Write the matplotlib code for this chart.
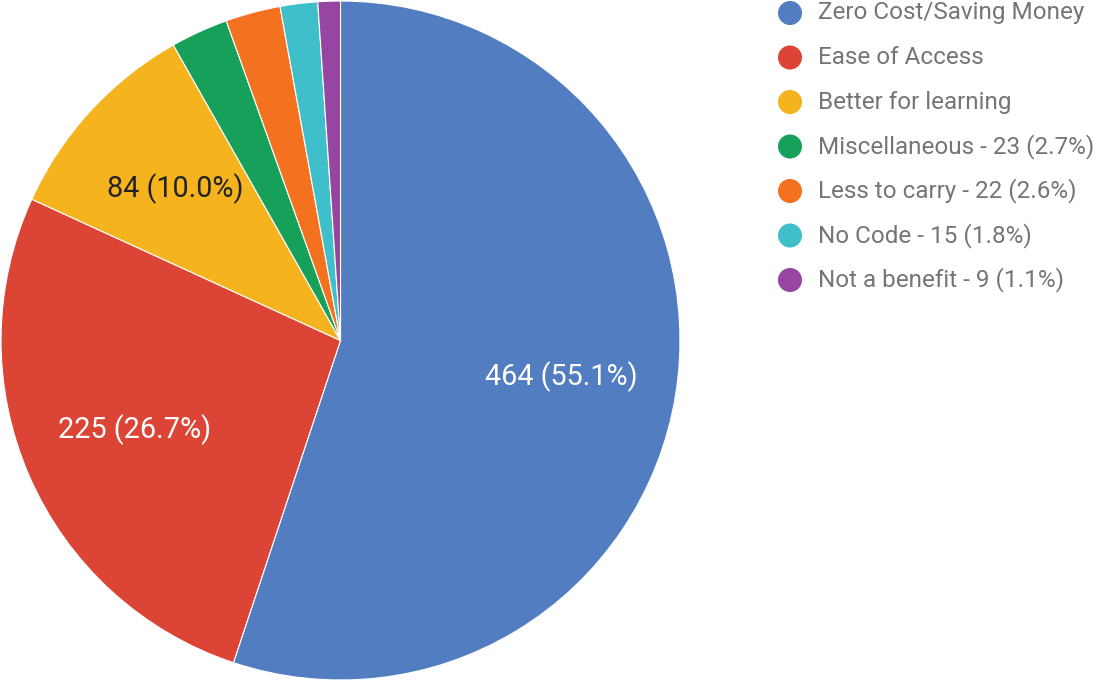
import math

import matplotlib

matplotlib.use("Agg")
import matplotlib.pyplot as plt

plt.rcParams["font.family"] = ["Roboto", "DejaVu Sans"]

categories = [
    "Zero Cost/Saving Money",
    "Ease of Access",
    "Better for learning",
    "Miscellaneous",
    "Less to carry",
    "No Code",
    "Not a benefit",
]
counts = [464, 225, 84, 23, 22, 15, 9]
colors = ["#527dc0", "#dc4535", "#f5b31e", "#17a05a", "#f3711f", "#3fbfca", "#9646a0"]
label_colors = ["white", "white", "#222222", None, None, None, None]

total = sum(counts)
W, H = 1096, 681

fig = plt.figure(figsize=(W / 100, H / 100), dpi=100)
ax = fig.add_axes([0.0, 0.0, 681 / W, 1.0])

wedges, _ = ax.pie(
    counts,
    colors=colors,
    startangle=90,
    counterclock=False,
    radius=1.0,
    wedgeprops={"edgecolor": "white", "linewidth": 0.8},
)
# pie() sets its own limits, so fix them afterwards
ax.set_xlim(-1.003, 1.003)
ax.set_ylim(-1.003, 1.003)
ax.set_aspect("equal")
ax.axis("off")

# slice labels only on the three big slices
angle = 90.0
for count, text_color in zip(counts, label_colors):
    span = 360.0 * count / total
    mid = math.radians(angle - span / 2)
    angle -= span
    if text_color is None:
        continue
    pct = 100.0 * count / total
    ax.text(
        0.66 * math.cos(mid),
        0.66 * math.sin(mid),
        f"{count} ({pct:.1f}%)",
        ha="center",
        va="center",
        fontsize=20.7,
        color=text_color,
    )

# legend with round markers, drawn in pixel space
overlay = fig.add_axes([0, 0, 1, 1])
overlay.set_xlim(0, W)
overlay.set_ylim(H, 0)
overlay.axis("off")
row_y = [13 + 44.5 * i for i in range(len(categories))]
for i, (name, count, color) in enumerate(zip(categories, counts, colors)):
    if i < 3:
        label = name
    else:
        label = f"{name} - {count} ({100.0 * count / total:.1f}%)"
    overlay.scatter([790], [row_y[i]], s=300, color=color, edgecolors="none")
    overlay.text(818, row_y[i], label, ha="left", va="center", fontsize=17.5, color="#757575")

fig.savefig("out.png", dpi=100)
